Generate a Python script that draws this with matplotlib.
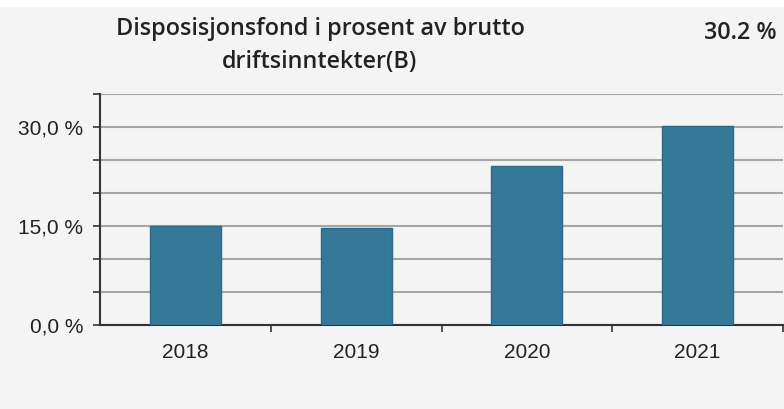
import matplotlib
matplotlib.use("Agg")
import matplotlib.pyplot as plt
from matplotlib.patches import Rectangle
from matplotlib.ticker import MultipleLocator, FixedLocator

categories = ["2018", "2019", "2020", "2021"]
values = [15.0, 14.7, 24.1, 30.2]
ytick_vals = [0, 15, 30]
ytick_labels = ["0,0 %", "15,0 %", "30,0 %"]
title_lines = ["Disposisjonsfond i prosent av brutto", "driftsinntekter(B)"]
corner_label = "30.2 %"

plt.rcParams["font.family"] = ["Liberation Sans", "DejaVu Sans"]

W, H = 784, 409
fig = plt.figure(figsize=(W / 100, H / 100), dpi=100, facecolor="#f4f4f4")
fig.patches.append(Rectangle((0, 1 - 7 / H), 1, 7 / H, transform=fig.transFigure,
                             facecolor="white", edgecolor="none", zorder=0))

ax = fig.add_axes([100 / W, 1 - 325 / H, 683 / W, (325 - 94) / H])
ax.set_facecolor("#f4f4f4")
x = list(range(len(categories)))
ax.bar(x, values, width=0.415, color="#357898", edgecolor="#2d6a87", linewidth=1, zorder=3)
ax.set_xlim(-0.5, len(categories) - 0.5)
ax.set_ylim(0, 35)

ax.yaxis.set_major_locator(FixedLocator(ytick_vals))
ax.set_yticklabels(ytick_labels)
ax.yaxis.set_minor_locator(MultipleLocator(5))
ax.grid(axis="y", which="both", color="#a6a6a6", linewidth=1.5, zorder=1)
ax.tick_params(axis="y", which="both", length=5, width=1.2, color="#333333",
               labelsize=15, labelcolor="#222222", pad=7)

ax.set_xticks(x)
ax.set_xticklabels(categories)
ax.tick_params(axis="x", which="major", length=0, labelsize=15, labelcolor="#222222", pad=13)
ax.xaxis.set_minor_locator(FixedLocator([i + 0.5 for i in x]))
ax.tick_params(axis="x", which="minor", length=5, width=1.2, color="#333333")

for s in ["top", "right"]:
    ax.spines[s].set_visible(False)
for s in ["left", "bottom"]:
    ax.spines[s].set_color("#333333")
    ax.spines[s].set_linewidth(1.5)

fig.text(320 / W, 1 - 29 / H, title_lines[0], ha="center", va="center", fontsize=16.8,
         family="Open Sans", fontweight="semibold", color="#222222")
fig.text(320 / W, 1 - 62 / H, title_lines[1], ha="center", va="center", fontsize=16.8,
         family="Open Sans", fontweight="semibold", color="#222222")
fig.text(777 / W, 1 - 33 / H, corner_label, ha="right", va="center", fontsize=16.8,
         family="Open Sans", fontweight="semibold", color="#222222")

fig.savefig("out.png", dpi=100, facecolor=fig.get_facecolor())
